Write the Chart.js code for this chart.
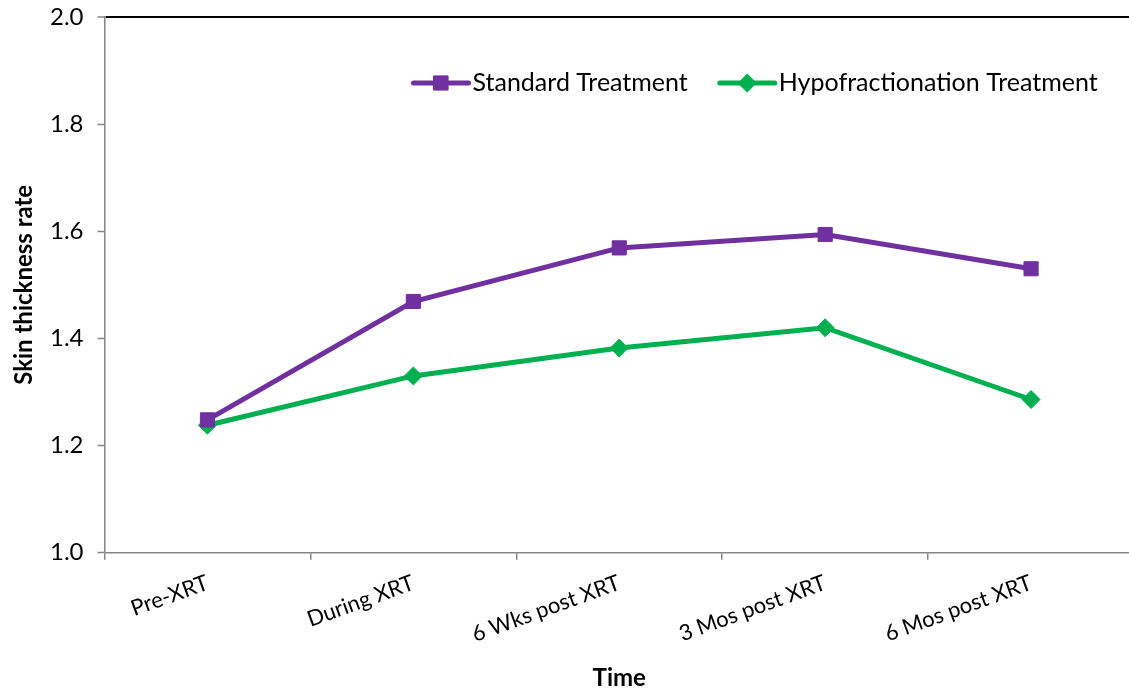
<!DOCTYPE html>
<html>
<head>
<meta charset="utf-8">
<script src="https://cdn.jsdelivr.net/npm/chart.js@4/dist/chart.umd.min.js"></script>
<style>
  html, body { margin: 0; padding: 0; background: #fff; overflow: hidden; width: 1129px; height: 688px; }
  #wrap { position: absolute; left: 0; top: 0; width: 1160px; height: 688px; }
</style>
</head>
<body>
<div id="wrap"><canvas id="c" width="1160" height="688"></canvas></div>
<script>
// Time points and mean skin thickness rate per arm
const categories = ['Pre-XRT', 'During XRT', '6 Wks post XRT', '3 Mos post XRT', '6 Mos post XRT'];
const standardTreatment = [1.248, 1.469, 1.569, 1.594, 1.530];
const hypofractionationTreatment = [1.238, 1.330, 1.382, 1.420, 1.286];
const yMin = 1.0;
const yMax = 2.0;
const yStep = 0.2;

const FONT = 'Lato, "Open Sans", sans-serif';
const AXIS_GREY = '#868686';

// Legend drawn inside the plot: a line sample with its marker, then the label
const lineLegend = {
  id: 'lineLegend',
  afterDatasetsDraw(chart, args, opts) {
    const ctx = chart.ctx;
    const area = chart.chartArea;
    let x = area.left + opts.offsetX;
    const y = area.top + opts.offsetY;
    ctx.save();
    ctx.font = opts.font;
    ctx.textBaseline = 'middle';
    ctx.textAlign = 'left';
    chart.data.datasets.forEach((ds) => {
      ctx.strokeStyle = ds.borderColor;
      ctx.lineWidth = ds.borderWidth;
      ctx.lineCap = 'round';
      ctx.beginPath();
      ctx.moveTo(x, y);
      ctx.lineTo(x + opts.sample, y);
      ctx.stroke();
      ctx.fillStyle = ds.pointBackgroundColor;
      ctx.strokeStyle = ds.pointBorderColor;
      ctx.lineWidth = ds.pointBorderWidth;
      Chart.helpers.drawPoint(ctx, {
        pointStyle: ds.pointStyle,
        radius: ds.pointRadius,
        borderWidth: ds.pointBorderWidth,
        rotation: 0
      }, x + opts.sample / 2, y);
      ctx.fillStyle = opts.color;
      const tx = x + opts.sample + opts.textGap;
      ctx.fillText(ds.label, tx, y);
      x = tx + ctx.measureText(ds.label).width + opts.itemGap;
    });
    ctx.restore();
  }
};

new Chart(document.getElementById('c'), {
  type: 'line',
  data: {
    labels: categories,
    datasets: [
      {
        label: 'Standard Treatment',
        data: standardTreatment,
        borderColor: '#7030A0',
        backgroundColor: '#7030A0',
        borderWidth: 5,
        pointStyle: 'rect',
        pointRadius: 10,
        pointBorderWidth: 1,
        pointBackgroundColor: '#7030A0',
        pointBorderColor: '#7030A0',
        tension: 0
      },
      {
        label: 'Hypofractionation Treatment',
        data: hypofractionationTreatment,
        borderColor: '#00B050',
        backgroundColor: '#00B050',
        borderWidth: 5,
        pointStyle: 'rectRot',
        pointRadius: 9,
        pointBorderWidth: 1,
        pointBackgroundColor: '#00B050',
        pointBorderColor: '#00B050',
        tension: 0
      }
    ]
  },
  options: {
    responsive: false,
    animation: false,
    devicePixelRatio: 1,
    layout: { padding: { left: 12, right: 26, top: 17, bottom: 0 } },
    plugins: {
      legend: { display: false },
      tooltip: { enabled: false },
      lineLegend: {
        offsetX: 309,
        offsetY: 66,
        sample: 55,
        textGap: 4,
        itemGap: 32,
        font: '25px ' + FONT,
        color: '#000'
      }
    },
    scales: {
      x: {
        type: 'category',
        offset: true,
        border: { display: true, color: AXIS_GREY, width: 1.5 },
        grid: {
          display: true,
          offset: true,
          drawOnChartArea: false,
          drawTicks: true,
          tickLength: 7,
          color: AXIS_GREY,
          lineWidth: 1.5
        },
        ticks: {
          color: '#000',
          font: { family: FONT, size: 22 },
          maxRotation: 20,
          minRotation: 20,
          padding: 10,
          autoSkip: false
        },
        title: {
          display: true,
          text: 'Time',
          color: '#000',
          font: { family: FONT, size: 24, weight: 'bold', lineHeight: 0.8 },
          padding: { top: 11, bottom: 0 }
        }
      },
      y: {
        min: yMin,
        max: yMax,
        border: { display: true, color: AXIS_GREY, width: 1.5 },
        grid: {
          display: true,
          drawOnChartArea: true,
          drawTicks: true,
          tickLength: 7,
          // only the top line at 2.0 closes the plot frame
          color: (c) => (c.tick && Math.abs(c.tick.value - yMax) < 1e-9) ? '#000' : 'rgba(0,0,0,0)',
          lineWidth: (c) => (c.tick && Math.abs(c.tick.value - yMax) < 1e-9) ? 2 : 1,
          tickColor: AXIS_GREY,
          tickWidth: 1.5
        },
        ticks: {
          stepSize: yStep,
          color: '#000',
          font: { family: FONT, size: 24 },
          padding: 14,
          callback: (v) => Number(v).toFixed(1)
        },
        // the outer layout padding already leaves room for the end labels
        afterFit: (scale) => {
          scale.paddingTop = 0;
          scale.paddingBottom = 0;
        },
        title: {
          display: true,
          text: 'Skin thickness rate',
          color: '#000',
          font: { family: FONT, size: 24, weight: 'bold', lineHeight: 1.0 },
          padding: { top: 0, bottom: 0 }
        }
      }
    }
  },
  plugins: [lineLegend]
});
</script>
</body>
</html>
